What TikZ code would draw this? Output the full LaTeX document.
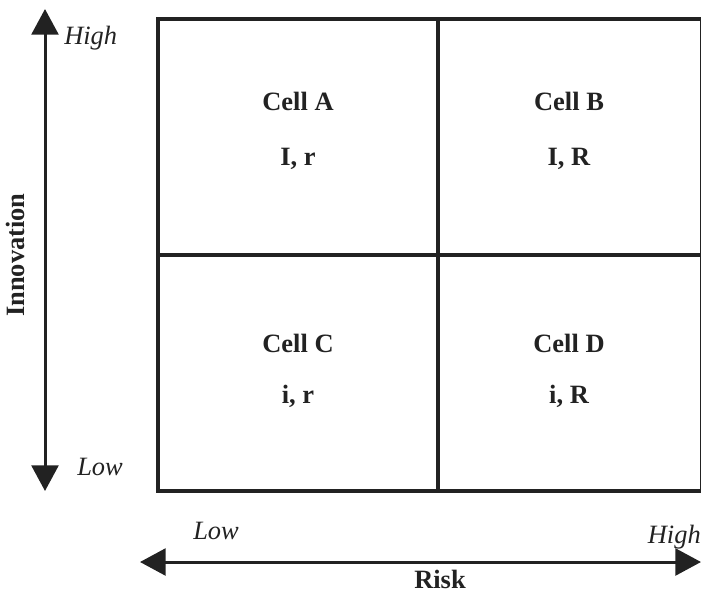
\documentclass[tikz,border=0pt]{standalone}
\usepackage{fontspec}
\setmainfont{Liberation Serif}
\usetikzlibrary{arrows.meta}
\definecolor{ink}{HTML}{222222}
\tikzset{
frame/.style={draw=ink, line width=3.5pt*0.025/0.03515},
axis/.style={draw=ink, fill=ink, line width=3pt*0.025/0.03515, {Triangle[width=0.67cm,length=0.64cm]}-{Triangle[width=0.67cm,length=0.64cm]}},
lbl/.style={anchor=base, inner sep=0pt, text=ink, font=\fontsize{18.8}{22}\selectfont\itshape},
cell/.style={anchor=base, inner sep=0pt, text=ink, font=\fontsize{18.8}{22}\selectfont\bfseries},
}

\begin{document}
\begin{tikzpicture}[x=0.025cm,y=-0.025cm]
    \useasboundingbox (0,0) rectangle (701,593);
    % the four cells
    \draw[frame] (158,19) rectangle (701.5,491);
    \draw[frame] (438,19) -- (438,491);
    \draw[frame] (158,255) -- (701.5,255);
    % axes
    \coordinate (vtop) at (45,9);
    \coordinate (vbot) at (45,491);
    \coordinate (hleft) at (140,562);
    \coordinate (hright) at (701,562);
    \draw[axis] (vbot) -- (vtop);
    \draw[axis] (hleft) -- (hright);
    \node[lbl, anchor=base west] (vhigh) at (64,44) {High};
    \node[lbl, anchor=base west] (vlow) at (77,475) {Low};
    \node[lbl, anchor=base west] (hlow) at (193,539) {Low};
    \node[lbl, anchor=base east] (hhigh) at (701,543) {High};
    \node[cell] (risk) at (440,588) {Risk};
    \node[cell, rotate=90, anchor=center] (innov) at (15,255) {Innovation};
    % cell texts
    \node[cell] (cellA) at (298,110) {Cell A};
    \node[cell] (codeA) at (298,165) {I, r};
    \node[cell] (cellB) at (569,110) {Cell B};
    \node[cell] (codeB) at (569,165) {I, R};
    \node[cell] (cellC) at (298,352) {Cell C};
    \node[cell] (codeC) at (298,403) {i, r};
    \node[cell] (cellD) at (569,352) {Cell D};
    \node[cell] (codeD) at (569,403) {i, R};
\end{tikzpicture}
\end{document}
